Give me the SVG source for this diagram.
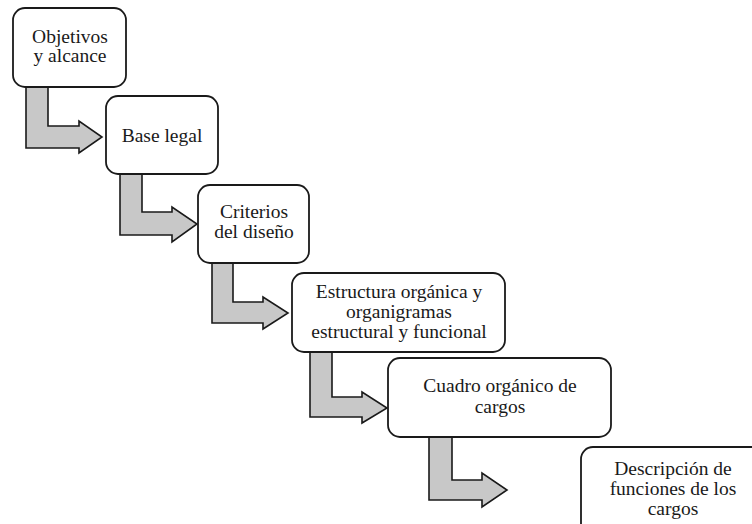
<svg xmlns="http://www.w3.org/2000/svg" width="752" height="524" viewBox="0 0 752 524">
<style>
.box{fill:#ffffff;stroke:#1a1a1a;stroke-width:1.8}
.arr{fill:#c8c8c8;stroke:#1a1a1a;stroke-width:1.6;stroke-linejoin:miter}
text{font-family:'Liberation Serif','Times New Roman','DejaVu Serif',serif;font-size:19.5px;fill:#1a1a1a;text-anchor:middle}
</style>
<rect width="752" height="524" fill="#ffffff"/>
<g id="connectors">
<path class="arr" d="M26,87 H48 V126 H79 V121 L102,137 L79,153 V148 H26 Z"/>
<path class="arr" d="M120,174 H142 V212 H172 V207 L197,224 L172,242 V235 H120 Z"/>
<path class="arr" d="M212,263 H233 V302 H263 V297 L288,313 L263,329 V323 H212 Z"/>
<path class="arr" d="M310,352 H332 V397 H362 V392 L387,408 L362,423 V417 H310 Z"/>
<path class="arr" d="M429,437 H452 V480 H482 V473 L507,490 L482,507 V500 H429 Z"/>
</g>
<g id="n1">
<rect class="box" x="13" y="8" width="113" height="79" rx="12"/>
<text x="70" y="43" font-family="Liberation Serif, serif">Objetivos</text>
<text x="70" y="62" font-family="Liberation Serif, serif">y alcance</text>
</g>
<g id="n2">
<rect class="box" x="106" y="96" width="112" height="78" rx="12"/>
<text x="162" y="142" font-family="Liberation Serif, serif">Base legal</text>
</g>
<g id="n3">
<rect class="box" x="198" y="185" width="111" height="78" rx="12"/>
<text x="254" y="218" font-family="Liberation Serif, serif">Criterios</text>
<text x="254" y="238" font-family="Liberation Serif, serif">del diseño</text>
</g>
<g id="n4">
<rect class="box" x="292" y="273" width="213" height="79" rx="12"/>
<text x="399" y="298" font-family="Liberation Serif, serif">Estructura orgánica y</text>
<text x="399" y="318" font-family="Liberation Serif, serif">organigramas</text>
<text x="399" y="338" font-family="Liberation Serif, serif">estructural y funcional</text>
</g>
<g id="n5">
<rect class="box" x="388" y="358" width="223" height="79" rx="12"/>
<text x="500" y="392" font-family="Liberation Serif, serif">Cuadro orgánico de</text>
<text x="500" y="413" font-family="Liberation Serif, serif">cargos</text>
</g>
<g id="n6">
<rect class="box" x="581" y="447" width="190" height="100" rx="12"/>
<text x="673" y="475" font-family="Liberation Serif, serif">Descripción de</text>
<text x="673" y="495" font-family="Liberation Serif, serif">funciones de los</text>
<text x="673" y="515" font-family="Liberation Serif, serif">cargos</text>
</g>
</svg>
